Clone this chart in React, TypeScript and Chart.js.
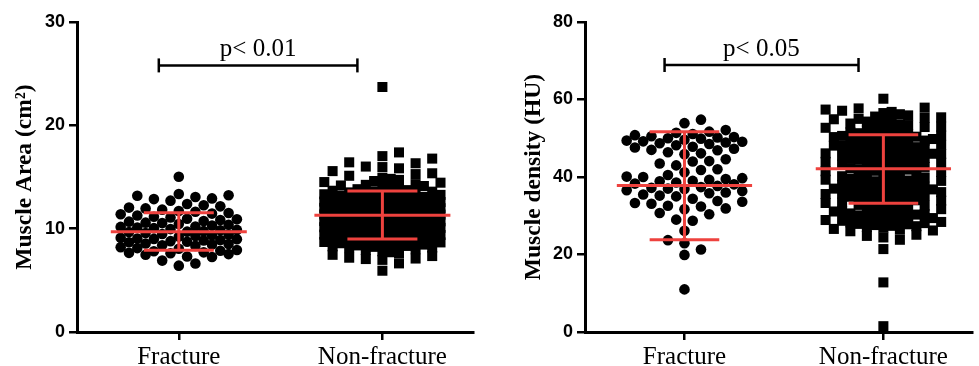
import React, { useEffect, useRef } from 'react';
import { Chart, registerables } from 'chart.js';

Chart.register(...registerables);

// ---------- data ----------
const groups = ['Fracture', 'Non-fracture'];

const areaFracture = [
  9.84, 11.27, 7.62, 10.45, 8.91, 13.18, 9.37, 12.04, 8.33, 10.96, 7.48, 11.63, 9.05, 10.12, 8.57,
  12.86, 9.71, 6.42, 11.08, 8.12, 10.68, 9.23, 13.35, 7.87, 11.52, 10.31, 8.74, 9.58, 12.27, 7.31,
  10.83, 9.96, 8.46, 11.84, 15.02, 9.12, 10.54, 7.93, 12.93, 8.68, 11.39, 9.49, 10.21, 6.63, 8.05,
  13.07, 9.88, 11.71, 7.71, 10.05, 8.86, 12.16, 9.29, 10.74, 7.54, 11.15, 8.39, 9.67, 12.71, 8.97,
  10.38, 7.82, 11.96, 9.44, 6.91, 10.91, 8.21, 13.24, 9.01, 11.46, 7.66, 10.58, 8.79, 12.39, 9.76,
  7.26, 10.17, 8.51,
];

const areaNonFracture = [
  11.42, 9.87, 12.63, 8.24, 13.91, 10.56, 7.35, 12.08, 14.72, 9.13, 11.85, 10.02, 8.67, 13.27, 12.44,
  10.83, 15.36, 9.52, 11.17, 8.93, 12.96, 7.81, 14.18, 10.39, 11.64, 9.31, 13.58, 8.46, 12.21, 10.74,
  16.42, 11.03, 9.68, 13.04, 8.12, 12.77, 10.21, 14.45, 11.36, 7.06, 9.95, 12.39, 13.73, 8.71, 10.92,
  11.58, 15.84, 9.24, 12.52, 10.47, 8.38, 13.46, 11.21, 9.79, 14.06, 7.62, 12.15, 10.63, 11.93, 8.85,
  17.02, 13.15, 9.43, 10.28, 12.84, 11.49, 8.01, 14.93, 10.87, 9.06, 12.67, 13.62, 11.12, 7.93, 10.14,
  6.64, 12.32, 9.61, 15.12, 11.76, 8.56, 13.38, 10.51, 12.01, 9.18, 14.31, 11.29, 8.29, 10.96, 12.58,
  16.01, 9.84, 13.82, 11.67, 7.47, 10.33, 12.89, 8.78, 14.61, 11.06, 9.37, 13.19, 10.68, 12.46, 8.17,
  23.71, 11.98, 9.72, 15.57, 10.08, 13.51, 12.27, 8.64, 11.38, 14.24, 9.49, 10.79, 12.71, 7.19, 13.97,
  16.78, 11.53, 8.44, 12.11, 10.42, 9.27, 13.33, 14.82, 11.84, 8.96, 10.17, 12.94, 7.72, 15.28, 9.58,
  17.38, 13.08, 11.24, 9.91, 12.36, 8.33, 10.59, 14.13, 11.71, 6.98, 12.62, 9.14, 13.67, 10.86, 8.59,
  5.93, 15.96, 11.47, 12.18, 9.81, 14.51, 10.27, 13.25, 7.11, 11.92, 8.89, 16.33, 12.48, 10.71, 9.39,
];

const densityFracture = [
  38.6, 47.3, 33.1, 50.2, 36.4, 44.1, 29.0, 51.4, 39.3, 42.0, 48.7, 35.8, 31.7, 49.6, 37.2,
  45.9, 26.1, 50.8, 38.9, 33.8, 47.8, 40.5, 36.0, 52.1, 43.5, 30.4, 49.1, 39.7, 23.7, 46.4,
  35.2, 50.5, 41.8, 32.6, 48.2, 37.7, 44.6, 28.7, 51.7, 38.1, 19.9, 49.4, 36.9, 47.0, 33.3,
  53.9, 40.1, 35.5, 50.0, 43.0, 31.9, 48.9, 39.0, 22.9, 46.9, 37.4, 54.8, 41.2, 34.4, 49.9,
  38.3, 30.7, 47.6, 36.6, 21.3, 50.3, 39.5, 44.0, 32.4, 48.5, 11.0, 37.0, 51.1, 35.0, 46.1,
  40.0, 33.6, 49.2,
];

const densityNonFracture = [
  42.3, 35.7, 51.2, 28.4, 46.8, 39.1, 55.6, 31.9, 44.5, 37.2, 49.7, 27.1, 53.3, 40.8, 33.4,
  47.9, 29.6, 56.8, 36.5, 43.7, 50.4, 26.6, 38.9, 45.2, 32.8, 54.1, 41.5, 30.3, 48.6, 35.1,
  52.7, 27.8, 44.0, 39.6, 57.4, 34.2, 46.1, 29.1, 50.9, 37.8, 42.9, 31.2, 55.0, 26.2, 48.0,
  40.2, 36.1, 53.8, 28.9, 45.7, 33.9, 49.3, 38.3, 57.9, 30.9, 43.2, 47.2, 27.4, 51.8, 35.4,
  60.2, 41.1, 32.1, 46.5, 38.0, 54.6, 29.9, 44.9, 36.8, 50.1, 26.9, 42.6, 34.7, 48.9, 31.5,
  56.2, 39.3, 45.1, 28.1, 52.3, 37.5, 43.9, 33.1, 49.0, 40.5, 30.6, 55.3, 35.9, 47.5, 27.6,
  21.4, 41.9, 51.5, 34.0, 46.3, 29.3, 53.0, 38.6, 44.2, 31.7, 50.7, 36.3, 57.1, 42.0, 28.7,
  48.3, 33.6, 45.5, 39.9, 24.4, 54.9, 30.1, 47.7, 37.0, 43.4, 26.4, 51.0, 35.6, 49.6, 32.4,
  12.8, 40.0, 55.9, 28.6, 46.7, 38.1, 52.9, 31.1, 44.7, 36.6, 50.3, 27.9, 42.8, 34.4, 48.1,
  1.5, 39.0, 53.6, 30.4, 45.9, 37.3, 56.5, 33.3, 49.4, 41.3, 23.8, 47.0, 35.0, 51.3, 29.4,
  43.0, 26.0, 54.3, 38.8, 46.0, 32.6, 50.6, 36.9, 57.7, 40.7, 28.3, 44.4, 34.9, 52.0, 31.4,
  25.1, 47.4, 39.5, 55.4, 30.0, 42.2, 36.0, 49.8, 27.3, 53.4, 33.7, 45.3, 41.6, 24.8, 48.7,
];

// mean and SD bars (per group)
const areaMean = [9.7, 11.3];
const areaLow = [7.9, 9.0];
const areaHigh = [11.55, 13.65];
const densityMean = [37.8, 42.1];
const densityLow = [23.8, 33.2];
const densityHigh = [51.7, 50.9];

const areaTicks = [0, 10, 20, 30];
const densityTicks = [0, 20, 40, 60, 80];

const areaPText = 'p< 0.01';
const densityPText = 'p< 0.05';
const areaBracketLevel = 25.8;
const densityBracketLevel = 68.9;

// ---------- styling ----------
const RED = 'rgb(238, 66, 62)';
const SERIF = '"Liberation Serif", "Times New Roman", serif';
const SANS = '"Liberation Sans", Arial, sans-serif';

// Prism-like swarm layout (pixel offsets computed from values)
function swarmOffsets(values: number[], pxPerY: number, diam: number, square: boolean): number[] {
  const step = 8.3;
  const slots = 7;
  const cands: number[] = [0];
  for (let k = 1; k <= slots; k++) cands.push(k * step, -k * step);
  const minD = diam * 1.0;
  const order = values.map((_, i) => i).sort((a, b) => values[a] - values[b]);
  const placed: { x: number; y: number }[] = [];
  const out = new Array(values.length).fill(0);
  for (const i of order) {
    const y = values[i] * pxPerY;
    let best = 0;
    let bestScore = -Infinity;
    for (const c of cands) {
      let md = Infinity;
      for (const p of placed) {
        const dy = Math.abs(p.y - y);
        if (dy > diam * 1.5) continue;
        const dx = Math.abs(p.x - c);
        const d = square ? Math.max(dx, dy) : Math.hypot(dx, dy);
        if (d < md) md = d;
      }
      if (md >= minD) { best = c; bestScore = Infinity; break; }
      if (md > bestScore + 0.01) { bestScore = md; best = c; }
    }
    placed.push({ x: best, y });
    out[i] = best;
  }
  return out;
}

type PanelProps = {
  width: number;
  height: number;
  axisWidth: number;
  padRight: number;
  yMax: number;
  ticks: number[];
  title: string;
  titlePad: number;
  frac: number[];
  non: number[];
  mean: number[];
  low: number[];
  high: number[];
  pText: string;
  bracketLevel: number;
};

function Panel(props: PanelProps) {
  const ref = useRef<HTMLCanvasElement | null>(null);
  useEffect(() => {
    const canvas = ref.current;
    if (!canvas) return;
    const { frac, non, mean, low, high, pText, bracketLevel, ticks } = props;

    const pPlugin = {
      id: 'pText',
      afterDatasetsDraw(chart: any) {
        const { ctx, scales } = chart;
        const x = scales.x, y = scales.y;
        const left = x.getPixelForValue(0) - 20;
        const right = x.getPixelForValue(1) - 25;
        const yPix = y.getPixelForValue(bracketLevel);
        ctx.save();
        ctx.fillStyle = '#000';
        ctx.font = `25px ${SERIF}`;
        ctx.textAlign = 'center';
        ctx.textBaseline = 'alphabetic';
        ctx.fillText(pText, (left + right) / 2, yPix - 9);
        ctx.restore();
      },
    };

    const grid = { drawOnChartArea: false, drawTicks: true, tickLength: 8, color: '#000', lineWidth: 2.5 };
    const border = { display: true, color: '#000', width: 3 };

    const chart = new Chart(canvas, {
      type: 'scatter',
      data: {
        datasets: [
          { data: frac.map((v) => ({ x: 0, y: v })) },
          { data: non.map((v) => ({ x: 1, y: v })) },
        ],
      },
      options: {
        animation: false,
        responsive: false,
        events: [],
        layout: { padding: { top: 22, right: props.padRight, left: 0, bottom: 0 } },
        plugins: { legend: { display: false }, tooltip: { enabled: false } },
        scales: {
          x: {
            type: 'linear',
            min: -0.5,
            max: 1.445,
            afterBuildTicks: (s: any) => { s.ticks = [{ value: 0 }, { value: 1 }]; },
            afterFit: (s: any) => { s.height = 34; },
            ticks: {
              callback: (v: any) => groups[v] ?? '',
              color: '#000',
              font: { family: SERIF, size: 25 },
              padding: 2,
              autoSkip: false,
              maxRotation: 0,
            },
            grid,
            border,
          },
          y: {
            type: 'linear',
            min: 0,
            max: props.yMax,
            afterBuildTicks: (s: any) => { s.ticks = ticks.map((v) => ({ value: v })); },
            afterFit: (s: any) => { s.width = props.axisWidth; },
            ticks: { color: '#000', font: { family: SANS, size: 18, weight: 'bold' }, padding: 4 },
            grid,
            border,
            title: {
              display: true,
              text: props.title,
              color: '#000',
              font: { family: SERIF, size: 23.5, weight: 'bold' },
              padding: { top: props.titlePad, bottom: 0 },
            },
          },
        },
      } as any,
      plugins: [pPlugin],
    });

    // swarm layout using the chart's own scales
    const xs = chart.scales.x, ys = chart.scales.y;
    const pxX = xs.getPixelForValue(1) - xs.getPixelForValue(0);
    const pxY = Math.abs(ys.getPixelForValue(1) - ys.getPixelForValue(0));
    const offF = swarmOffsets(frac, pxY, 10.6, false);
    const offN = swarmOffsets(non, pxY, 10, true);

    const seg = (pts: { x: number; y: number }[], color: string, w: number) => ({
      data: pts,
      showLine: true,
      borderColor: color,
      borderWidth: w,
      pointRadius: 0,
      order: 0,
      clip: false,
      borderCapStyle: 'butt',
    });

    const meanHalf = 68 / pxX;
    const capHalf = 35 / pxX;
    const errs: any[] = [];
    [0, 1].forEach((g) => {
      errs.push(seg([{ x: g - meanHalf, y: mean[g] }, { x: g + meanHalf, y: mean[g] }], RED, 3));
      errs.push(seg([{ x: g - capHalf, y: high[g] }, { x: g + capHalf, y: high[g] }], RED, 3));
      errs.push(seg([{ x: g - capHalf, y: low[g] }, { x: g + capHalf, y: low[g] }], RED, 3));
      errs.push(seg([{ x: g, y: low[g] }, { x: g, y: high[g] }], RED, 3));
    });
    const bl = 0 - 20 / pxX;
    const br = 1 - 25 / pxX;
    const th = 7 / pxY;
    const b = bracketLevel;
    const brackets = [
      seg([{ x: bl, y: b }, { x: br, y: b }], '#000', 2.5),
      seg([{ x: bl, y: b - th }, { x: bl, y: b + th }], '#000', 2.5),
      seg([{ x: br, y: b - th }, { x: br, y: b + th }], '#000', 2.5),
    ];

    chart.data.datasets = [
      ...errs,
      ...brackets,
      {
        label: groups[0],
        data: frac.map((v, i) => ({ x: 0 + offF[i] / pxX, y: v })),
        pointStyle: 'circle',
        pointRadius: 5.3,
        backgroundColor: '#000',
        borderWidth: 0,
        order: 1,
        clip: false,
      },
      {
        label: groups[1],
        data: non.map((v, i) => ({ x: 1 + offN[i] / pxX, y: v })),
        pointStyle: 'rect',
        pointRadius: 7.1,
        backgroundColor: '#000',
        borderWidth: 0,
        order: 1,
        clip: false,
      },
    ] as any;
    chart.update('none');

    return () => chart.destroy();
  }, []);
  return <canvas ref={ref} width={props.width} height={props.height} style={{ display: 'block' }} />;
}

export default function App() {
  return (
    <div style={{ position: 'absolute', left: 0, top: 0, width: 979, height: 366, background: '#fff', overflow: 'hidden' }}>
      <div style={{ position: 'absolute', left: 0, top: 0 }}>
        <Panel
          width={490}
          height={366}
          axisWidth={77}
          padRight={17}
          yMax={30}
          ticks={areaTicks}
          title="Muscle Area (cm²)"
          titlePad={11}
          frac={areaFracture}
          non={areaNonFracture}
          mean={areaMean}
          low={areaLow}
          high={areaHigh}
          pText={areaPText}
          bracketLevel={areaBracketLevel}
        />
      </div>
      <div style={{ position: 'absolute', left: 490, top: 0 }}>
        <Panel
          width={489}
          height={366}
          axisWidth={95}
          padRight={0}
          yMax={80}
          ticks={densityTicks}
          title="Muscle density (HU)"
          titlePad={30}
          frac={densityFracture}
          non={densityNonFracture}
          mean={densityMean}
          low={densityLow}
          high={densityHigh}
          pText={densityPText}
          bracketLevel={densityBracketLevel}
        />
      </div>
    </div>
  );
}
